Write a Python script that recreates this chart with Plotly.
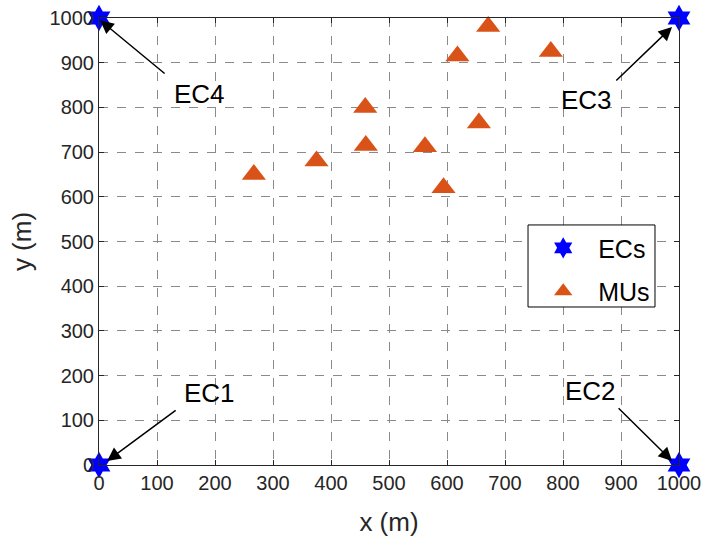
import plotly.graph_objects as go

# Edge computing servers (corners of the area)
ec_x = [0, 1000, 1000, 0]
ec_y = [0, 0, 1000, 1000]
ec_names = ["EC1", "EC2", "EC3", "EC4"]

# Mobile users
mu_x = [267, 375, 459, 460, 562, 594, 655, 618, 671, 779]
mu_y = [650, 680, 800, 715, 712, 620, 765, 915, 981, 925]

# Label annotations: arrow tail, arrow head and text position for each EC
arrow_tail_x = [133, 895, 891, 114]
arrow_tail_y = [123, 128, 859, 875]
arrow_head_x = [14, 988, 988, 2]
arrow_head_y = [9, 9, 980, 995]
label_x = [190, 847, 841, 174]
label_y = [161, 166, 817, 830]

ticks = list(range(0, 1001, 100))

font_family = "Liberation Sans, Arial, sans-serif"
axis_color = "#262626"

fig = go.Figure()
fig.add_trace(go.Scatter(
    x=ec_x, y=ec_y, mode="markers", name="ECs", legendgroup="ec",
    marker=dict(symbol="hexagram", size=20, color="#0000FF",
                line=dict(width=0)),
    cliponaxis=False,
))
fig.add_trace(go.Scatter(
    x=mu_x, y=mu_y, mode="markers", name="MUs", legendgroup="mu",
    marker=dict(symbol="triangle-up", size=21, color="#D95319",
                line=dict(width=0)),
    cliponaxis=False,
))

annotations = []
for tx, ty, hx, hy in zip(arrow_tail_x, arrow_tail_y, arrow_head_x, arrow_head_y):
    annotations.append(dict(
        x=hx, y=hy, ax=tx, ay=ty, xref="x", yref="y", axref="x", ayref="y",
        text="", showarrow=True, arrowhead=2, arrowsize=1.8, arrowwidth=1.5,
        arrowcolor="black", borderpad=0,
    ))
for name, lx, ly in zip(ec_names, label_x, label_y):
    annotations.append(dict(
        x=lx, y=ly, xref="x", yref="y", text=name, showarrow=False,
        font=dict(family=font_family, size=26, color="black"),
    ))

axis_common = dict(
    range=[0, 1000], tickmode="array", tickvals=ticks,
    ticks="inside", ticklen=5, tickcolor=axis_color,
    showline=True, linecolor=axis_color, linewidth=1, mirror="ticks",
    showgrid=True, gridcolor="#8a8a8a", gridwidth=1, griddash="dash",
    zeroline=False, automargin=False,
    tickfont=dict(family=font_family, size=20, color=axis_color),
)

# Legend frame (white box over the grid)
legend_box = dict(
    type="rect", xref="paper", yref="paper",
    x0=0.7397, x1=0.9586, y0=0.3535, y1=0.537,
    fillcolor="white", line=dict(color="black", width=1), layer="above",
)

fig.update_layout(
    width=702, height=537,
    margin=dict(l=99, r=23, t=18, b=72),
    paper_bgcolor="white", plot_bgcolor="white",
    xaxis=dict(**axis_common,
               title=dict(text="x (m)", standoff=20,
                          font=dict(family=font_family, size=26, color=axis_color))),
    yaxis=dict(**axis_common,
               title=dict(text="y (m)", standoff=10,
                          font=dict(family=font_family, size=26, color=axis_color))),
    legend=dict(x=0.74, y=0.5367, xanchor="left", yanchor="top",
                bgcolor="rgba(0,0,0,0)", borderwidth=0,
                traceorder="grouped", tracegroupgap=8, itemwidth=60,
                font=dict(family=font_family, size=25, color="black")),
    shapes=[legend_box],
    annotations=annotations,
    showlegend=True,
)

fig.write_html("out.html")
